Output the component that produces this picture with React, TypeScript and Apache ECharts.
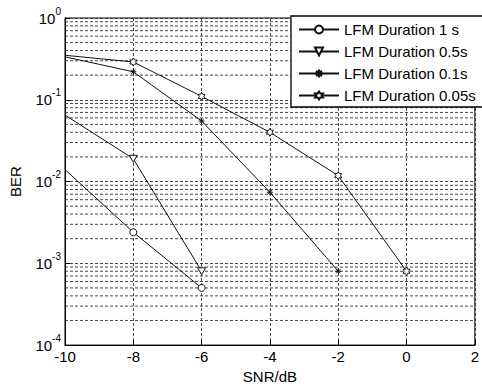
import React, { useEffect, useRef } from "react";
import * as echarts from "echarts";

const snr = [-10, -8, -6, -4, -2, 0];
const ber1s = [0.014, 0.0024, 0.0005];
const ber05s = [0.065, 0.019, 0.0008];
const ber01s = [0.335, 0.22, 0.055, 0.0074, 0.0008];
const ber005s = [0.35, 0.29, 0.11, 0.04, 0.0118, 0.0008];
const seriesNames = [
  "LFM Duration 1 s",
  "LFM Duration 0.5s",
  "LFM Duration 0.1s",
  "LFM Duration 0.05s",
];
const decades = [-4, -3, -2, -1];
const minorMultipliers = [2, 3, 4, 5, 6, 7, 8, 9];
const xMin = -10;
const xMax = 2;

const FONT = "'Liberation Sans', Arial, Helvetica, sans-serif";

function hexagramPath(): string {
  const pts: string[] = [];
  for (let i = 0; i < 12; i++) {
    const a = (-90 + i * 30) * Math.PI / 180;
    const r = i % 2 === 0 ? 10 : 5.77;
    const x = 10 + r * Math.cos(a);
    const y = 10 + r * Math.sin(a);
    pts.push((i === 0 ? "M" : "L") + x.toFixed(2) + "," + y.toFixed(2));
  }
  return "path://" + pts.join(" ") + " Z";
}

const triDown = "path://M0,0 L10,0 L5,8.66 Z";
const asterisk = "path://M5,0 L5,10 M0,5 L10,5 M1.5,1.5 L8.5,8.5 M8.5,1.5 L1.5,8.5";

export default function App() {
  const ref = useRef<HTMLDivElement>(null);
  useEffect(() => {
    if (!ref.current) return;
    const chart = echarts.init(ref.current, undefined, { renderer: "svg" });
    // first point of each curve sits on the axis edge and has no marker
    const pair = (vals: number[]) =>
      vals.map((v, i) => (i === 0 ? { value: [snr[i], v], symbol: "none" } : { value: [snr[i], v] }));
    const minorValues: number[][] = [];
    decades.forEach((d) => {
      minorMultipliers.forEach((m) => {
        minorValues.push([xMin, m * Math.pow(10, d)]);
      });
    });
    const lineCol = "#111";
    const gridStyle = { color: "#333", type: [3, 2], width: 0.9 };
    const baseSeries = (name: string, data: any[], symbol: string, size: number, fill: string) => ({
      name,
      type: "line",
      data,
      symbol,
      symbolSize: size,
      symbolKeepAspect: true,
      showSymbol: true,
      lineStyle: { color: lineCol, width: 1 },
      itemStyle: { color: fill, borderColor: lineCol, borderWidth: 1 },
      z: 5,
    });
    const minorGrid = {
      type: "custom",
      name: "minorGrid",
      silent: true,
      z: 1,
      data: minorValues,
      encode: { x: 0, y: 1 },
      renderItem: (params: any, api: any) => {
        const v = api.value(1);
        const p1 = api.coord([xMin, v]);
        const p2 = api.coord([xMax, v]);
        return {
          type: "line",
          shape: { x1: p1[0], y1: p1[1], x2: p2[0], y2: p2[1] },
          style: { stroke: "#333", lineWidth: 0.9, lineDash: [3, 2] },
        };
      },
    };
    const option: any = {
      animation: false,
      backgroundColor: "#fff",
      textStyle: { fontFamily: FONT },
      grid: {
        left: 61,
        right: 2,
        top: 18,
        bottom: 41,
        show: true,
        borderColor: "#000",
        borderWidth: 1,
        backgroundColor: "transparent",
      },
      legend: {
        orient: "vertical",
        left: 291,
        top: 16,
        itemWidth: 40,
        itemHeight: 10,
        itemGap: 7,
        padding: [6, 20, 4, 7],
        backgroundColor: "#fff",
        borderColor: "#000",
        borderWidth: 1.3,
        textStyle: { fontSize: 15, color: "#000", fontFamily: FONT },
        data: seriesNames,
        z: 10,
      },
      xAxis: {
        type: "value",
        min: xMin,
        max: xMax,
        interval: 2,
        name: "SNR/dB",
        nameLocation: "middle",
        nameGap: 22,
        nameTextStyle: { fontSize: 15, color: "#000", fontFamily: FONT },
        axisLine: { show: true, onZero: false, lineStyle: { color: "#000", width: 1 } },
        axisTick: { show: true, inside: true, length: 5, lineStyle: { color: "#000" } },
        axisLabel: { fontSize: 15, color: "#000", margin: 4, fontFamily: FONT },
        splitLine: { show: true, lineStyle: gridStyle },
      },
      yAxis: {
        type: "log",
        logBase: 10,
        min: 1e-4,
        max: 1,
        name: "BER",
        nameLocation: "middle",
        nameGap: 42,
        nameTextStyle: { fontSize: 15, color: "#000", fontFamily: FONT },
        axisLine: { show: true, onZero: false, lineStyle: { color: "#000", width: 1 } },
        axisTick: { show: true, inside: true, length: 5, lineStyle: { color: "#000" } },
        axisLabel: {
          margin: 4,
          formatter: (v: number) => {
            const e = Math.round(Math.log10(v));
            return "{b|10}{s|" + e + "}";
          },
          rich: {
            b: { fontSize: 15, lineHeight: 24, color: "#000", fontFamily: FONT },
            s: { fontSize: 10, lineHeight: 10, verticalAlign: "top", color: "#000", fontFamily: FONT },
          },
        },
        splitLine: { show: true, lineStyle: gridStyle },
      },
      series: [
        minorGrid,
        baseSeries(seriesNames[0], pair(ber1s), "circle", 7, "#fff"),
        baseSeries(seriesNames[1], pair(ber05s), triDown, 8, "#fff"),
        baseSeries(seriesNames[2], pair(ber01s), asterisk, 6, "#111"),
        baseSeries(seriesNames[3], pair(ber005s), hexagramPath(), 8, "#fff"),
      ],
    };
    chart.setOption(option);
    return () => chart.dispose();
  }, []);
  return (
    <div
      ref={ref}
      style={{ position: "fixed", left: 0, top: 0, width: 482, height: 389, background: "#fff" }}
    />
  );
}
